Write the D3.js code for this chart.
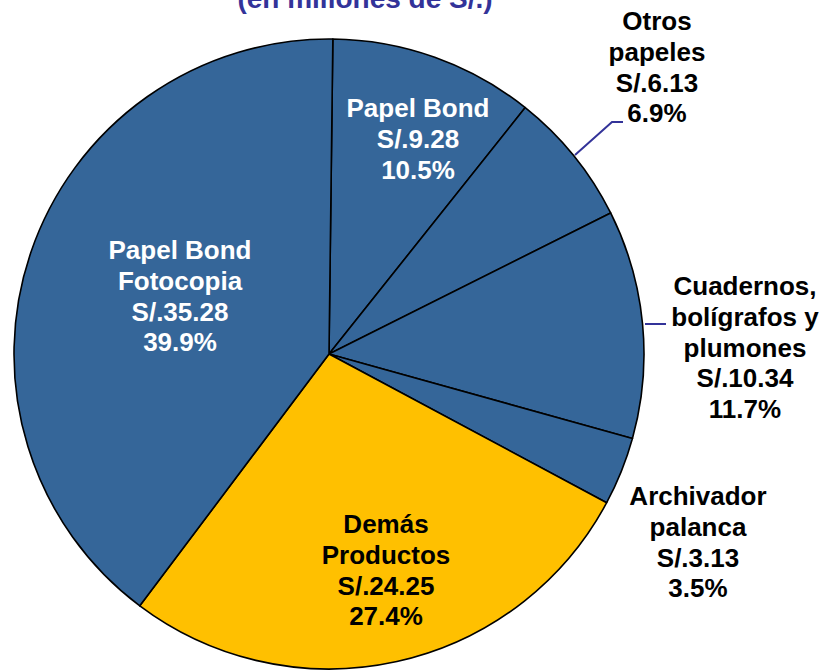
<!DOCTYPE html>
<html>
<head>
<meta charset="utf-8">
<script src="https://cdn.jsdelivr.net/npm/d3@7"></script>
<style>
  body { margin: 0; background: #fff; }
  text { font-family: Arial, "Liberation Sans", sans-serif; font-weight: bold; }
</style>
</head>
<body>
<script>
// slices clockwise from 12 o'clock
const categories = ['Papel Bond', 'Otros papeles', 'Cuadernos, bolígrafos y plumones',
                    'Archivador palanca', 'Demás Productos', 'Papel Bond Fotocopia']
const amounts = [9.28, 6.13, 10.34, 3.13, 24.25, 35.28]
const shares = [10.5, 6.9, 11.7, 3.5, 27.4, 39.9]
const labelLines = [
    ['Papel Bond'],
    ['Otros', 'papeles'],
    ['Cuadernos,', 'bolígrafos y', 'plumones'],
    ['Archivador', 'palanca'],
    ['Demás', 'Productos'],
    ['Papel Bond', 'Fotocopia']
]

const m = { width: 825, height: 670 }
const cx = 329, cy = 354, r = 315

// label block: first baseline, centre x, text colour
const labelAt = [
    { x: 418, y: 117, fill: '#fff' },
    { x: 657, y: 30, fill: '#000' },
    { x: 745, y: 295, fill: '#000' },
    { x: 698, y: 505, fill: '#000' },
    { x: 386, y: 533, fill: '#000' },
    { x: 180, y: 259, fill: '#fff' }
]
// leader lines for outside labels
const leaders = {
    1: [[575, 155], [612, 122], [623, 122]],
    2: [[645, 324], [666, 324]]
}

const svg = d3.select('body').append('svg')
    .attr('width', m.width)
    .attr('height', m.height)

const color = d3.scaleOrdinal()
    .domain(categories)
    .range(['#356699', '#356699', '#356699', '#356699', '#FFC000', '#356699'])

const offset = 0.7 * Math.PI / 180
const pie = d3.pie()
    .sort(null)
    .value(d => d.share)
    .startAngle(offset)
    .endAngle(2 * Math.PI + offset)

const data = categories.map((c, i) => ({ cat: c, amount: amounts[i], share: shares[i] }))
const arcs = pie(data)
const arc = d3.arc().innerRadius(0).outerRadius(r)

const g = svg.append('g').attr('transform', `translate(${cx},${cy})`)
g.selectAll('path')
    .data(arcs)
    .enter()
    .append('path')
        .attr('d', arc)
        .attr('fill', d => color(d.data.cat))
        .attr('stroke', '#000')
        .attr('stroke-width', 1.6)
        .attr('stroke-linejoin', 'round')

// title (mostly cropped off the top)
svg.append('text')
    .attr('x', 365)
    .attr('y', 8)
    .attr('text-anchor', 'middle')
    .attr('font-size', 28)
    .attr('fill', '#333399')
    .text('(en millones de S/.)')

const line = d3.line()
Object.keys(leaders).forEach(k => {
    svg.append('path')
        .attr('d', line(leaders[k]))
        .attr('fill', 'none')
        .attr('stroke', '#333399')
        .attr('stroke-width', 2)
})

const lh = 30.8
arcs.forEach((a, i) => {
    const lines = labelLines[i].concat(['S/.' + a.data.amount.toFixed(2), a.data.share.toFixed(1) + '%'])
    const t = svg.append('text')
        .attr('text-anchor', 'middle')
        .attr('font-size', 26)
        .attr('fill', labelAt[i].fill)
    lines.forEach((s, j) => {
        t.append('tspan')
            .attr('x', labelAt[i].x)
            .attr('y', labelAt[i].y + j * lh)
            .text(s)
    })
})
</script>
</body>
</html>
